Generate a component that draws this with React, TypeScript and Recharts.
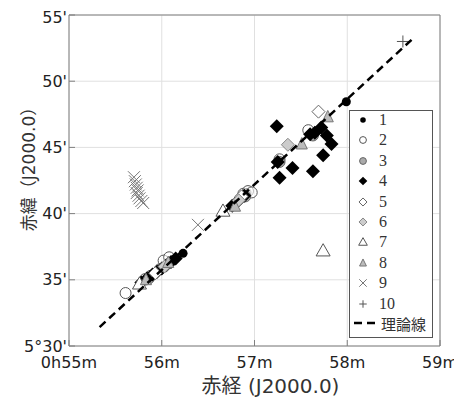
import React from 'react';
import { ScatterChart, Scatter, XAxis, YAxis, CartesianGrid, ReferenceLine } from 'recharts';

// x: right ascension in minutes (0h55m..0h59m), y: declination in arcmin above 5°
const series1: [number, number][] = [[57.99, 48.45], [56.23, 37.0], [56.12, 36.5], [56.92, 41.6]];
const series2: [number, number][] = [
  [55.61, 34.0], [55.82, 35.05], [55.88, 35.3], [56.02, 36.45], [56.08, 36.7],
  [56.88, 41.5], [56.93, 41.7], [56.97, 41.6], [57.27, 44.1], [57.58, 46.3],
];
const series3: [number, number][] = [[55.86, 35.1], [55.98, 35.8], [56.9, 41.3], [57.27, 43.9], [57.63, 45.9]];
const series4: [number, number][] = [
  [55.78, 34.8], [55.84, 35.1], [55.9, 35.4], [55.95, 35.6], [56.0, 35.85], [56.05, 36.1], [56.1, 36.35], [56.15, 36.6],
  [56.76, 40.6], [56.81, 40.85], [56.85, 41.15], [56.89, 41.35],
  [57.24, 46.6], [57.25, 43.9], [57.41, 43.45], [57.27, 42.7], [57.63, 43.2], [57.74, 44.4],
  [57.83, 45.25], [57.78, 45.9], [57.65, 46.1], [57.72, 46.5], [57.6, 46.0],
];
const series5: [number, number][] = [[57.69, 47.7], [55.93, 35.5], [56.86, 41.3]];
const series6: [number, number][] = [[57.36, 45.2], [56.03, 36.0], [56.83, 41.0]];
const series7: [number, number][] = [[57.74, 37.2], [56.66, 40.2], [55.76, 34.7]];
const series8: [number, number][] = [[57.51, 45.25], [57.79, 47.3], [56.79, 40.55], [55.83, 35.0], [56.07, 36.3]];
const series9: [number, number][] = [
  [55.7, 42.75], [55.71, 42.45], [55.72, 42.2], [55.73, 41.95], [55.74, 41.75], [55.73, 41.55],
  [55.75, 41.35], [55.76, 41.15], [55.78, 40.95], [55.8, 40.8], [56.39, 39.15],
];
const series10: [number, number][] = [[58.6, 53.0]];
const theory: [number, number][] = [[55.33, 31.43], [58.73, 53.36]];

const xTicks = [55, 56, 57, 58, 59];
const yTicks = [30, 35, 40, 45, 50, 55];
const legendLabels = ['1', '2', '3', '4', '5', '6', '7', '8', '9', '10'];

const toPoints = (s: [number, number][]) => s.map(([x, y]) => ({ x, y }));

type Kind = 'dot' | 'circle' | 'grayCircle' | 'diamond' | 'openDiamond' | 'grayDiamond' | 'triangle' | 'grayTriangle' | 'cross' | 'plus';

function Marker({ kind, cx, cy, s = 1 }: { kind: Kind; cx: number; cy: number; s?: number }) {
  switch (kind) {
    case 'dot':
      return <circle cx={cx} cy={cy} r={4.5 * s} fill="#000" />;
    case 'circle':
      return <circle cx={cx} cy={cy} r={5.5 * s} fill="#fff" fillOpacity={0.6} stroke="#555" strokeWidth={1} />;
    case 'grayCircle':
      return <circle cx={cx} cy={cy} r={5.5 * s} fill="#aaa" stroke="#666" strokeWidth={1} />;
    case 'diamond': {
      const r = 7 * s;
      return <polygon points={`${cx},${cy - r} ${cx + r},${cy} ${cx},${cy + r} ${cx - r},${cy}`} fill="#000" />;
    }
    case 'openDiamond': {
      const r = 6.5 * s;
      return <polygon points={`${cx},${cy - r} ${cx + r},${cy} ${cx},${cy + r} ${cx - r},${cy}`} fill="#fff" stroke="#666" />;
    }
    case 'grayDiamond': {
      const r = 6.5 * s;
      return <polygon points={`${cx},${cy - r} ${cx + r},${cy} ${cx},${cy + r} ${cx - r},${cy}`} fill="#ccc" stroke="#888" />;
    }
    case 'triangle': {
      const r = 7 * s;
      return <polygon points={`${cx},${cy - r} ${cx + r},${cy + r * 0.75} ${cx - r},${cy + r * 0.75}`} fill="#fff" stroke="#555" />;
    }
    case 'grayTriangle': {
      const r = 6.5 * s;
      return <polygon points={`${cx},${cy - r} ${cx + r * 0.85},${cy + r * 0.75} ${cx - r * 0.85},${cy + r * 0.75}`} fill="#bbb" stroke="#777" />;
    }
    case 'cross': {
      const r = 6 * s;
      return (
        <g stroke="#777" strokeWidth={1}>
          <line x1={cx - r} y1={cy - r} x2={cx + r} y2={cy + r} />
          <line x1={cx - r} y1={cy + r} x2={cx + r} y2={cy - r} />
        </g>
      );
    }
    case 'plus': {
      const r = 6 * s;
      return (
        <g stroke="#555" strokeWidth={1}>
          <line x1={cx - r} y1={cy} x2={cx + r} y2={cy} />
          <line x1={cx} y1={cy - r} x2={cx} y2={cy + r} />
        </g>
      );
    }
  }
  return null;
}

const seriesList: { data: [number, number][]; kind: Kind }[] = [
  { data: series1, kind: 'dot' },
  { data: series2, kind: 'circle' },
  { data: series3, kind: 'grayCircle' },
  { data: series4, kind: 'diamond' },
  { data: series5, kind: 'openDiamond' },
  { data: series6, kind: 'grayDiamond' },
  { data: series7, kind: 'triangle' },
  { data: series8, kind: 'grayTriangle' },
  { data: series9, kind: 'cross' },
  { data: series10, kind: 'plus' },
];

const tickFont = { fontFamily: "'DejaVu Sans', sans-serif", fontSize: 16, fill: '#222' };
const labelFont = "'DejaVu Sans', 'Noto Sans CJK JP', sans-serif";

function XLabel(props: any) {
  const { viewBox } = props;
  const x = viewBox.x + viewBox.width / 2 + 16;
  return (
    <text x={x} y={385} textAnchor="middle" fontFamily={labelFont} fontSize={20} fill="#333">
      赤経 (J2000.0)
    </text>
  );
}

function YLabel() {
  return (
    <text x={0} y={0} transform="translate(21, 157) rotate(-90)" textAnchor="middle" dominantBaseline="central" fontFamily={labelFont} fontSize={17} fill="#333">
      赤緯（J2000.0）
    </text>
  );
}

function LegendBox() {
  return (
    <div
      style={{
        position: 'absolute', left: 341, top: 102, width: 82, height: 226,
        background: '#fff', border: '1px solid #555',
        fontFamily: "'Liberation Serif', serif", fontSize: 16, color: '#333',
      }}
    >
      {seriesList.map((s, i) => (
        <div key={i} style={{ position: 'absolute', left: 0, top: -1 + i * 20.4, height: 20, display: 'flex', alignItems: 'center' }}>
          <svg width={26} height={20}>
            <Marker kind={s.kind} cx={13} cy={10} s={0.62} />
          </svg>
          <span style={{ marginLeft: 3 }}>{legendLabels[i]}</span>
        </div>
      ))}
      <div style={{ position: 'absolute', left: 0, top: 202, height: 20, display: 'flex', alignItems: 'center' }}>
        <svg width={30} height={20}>
          <line x1={4} y1={10} x2={30} y2={10} stroke="#000" strokeWidth={2.5} strokeDasharray="8 5" />
        </svg>
        <span style={{ marginLeft: 1, fontFamily: "'Noto Sans CJK JP', sans-serif", fontSize: 15 }}>理論線</span>
      </div>
    </div>
  );
}

export default function App() {
  return (
    <div style={{ position: 'relative', width: 454, height: 391 }}>
      <ScatterChart width={454} height={391} margin={{ top: 7, right: 22, bottom: 0, left: 0 }}>
        <CartesianGrid stroke="#e0e0e0" strokeWidth={1} />
        <XAxis
          type="number"
          dataKey="x"
          domain={[55, 59]}
          ticks={xTicks}
          height={53}
          stroke="#808080"
          tickSize={-6}
          tickMargin={17}
          tick={tickFont}
          tickFormatter={(v: number) => (v === 55 ? '0h55m' : `${v}m`)}
          label={<XLabel />}
        />
        <YAxis
          type="number"
          dataKey="y"
          domain={[30, 55]}
          ticks={yTicks}
          width={61}
          stroke="#808080"
          tickSize={-6}
          tickMargin={8}
          tick={tickFont}
          tickFormatter={(v: number) => (v === 30 ? "5°30'" : `${v}'`)}
          label={<YLabel />}
        />
        <ReferenceLine y={55} stroke="#808080" />
        <ReferenceLine x={59} stroke="#808080" />
        {seriesList.map((s, i) => (
          <Scatter
            key={i}
            data={toPoints(s.data)}
            isAnimationActive={false}
            shape={(p: any) => <Marker kind={s.kind} cx={p.cx} cy={p.cy} />}
          />
        ))}
        <Scatter
          data={toPoints(theory)}
          isAnimationActive={false}
          line={{ stroke: '#000', strokeWidth: 2.5, strokeDasharray: '8 5' }}
          shape={() => <g />}
        />
      </ScatterChart>
      <LegendBox />
    </div>
  );
}
